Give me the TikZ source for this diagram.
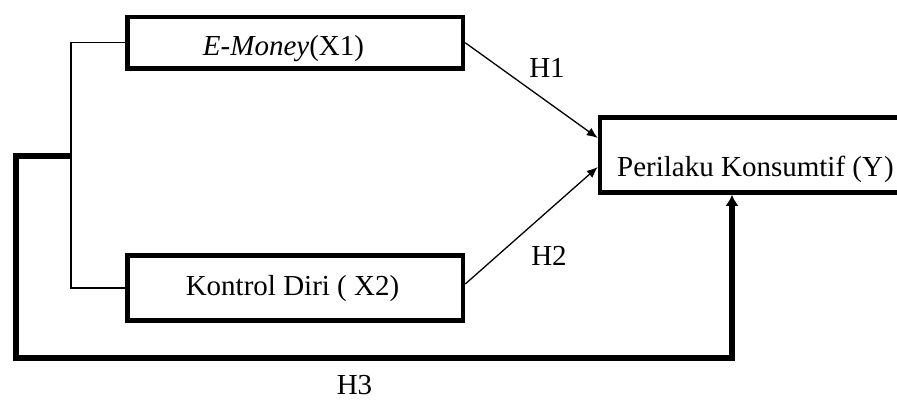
\documentclass[tikz,border=0pt]{standalone}
\usepackage{fontspec}
\setmainfont{Liberation Serif}
\usetikzlibrary{arrows.meta}
\begin{document}
\begin{tikzpicture}[x=1pt,y=-1pt,
  varbox/.style={draw,line width=4.5pt,rectangle,inner sep=0pt},
  lbl/.style={anchor=base,inner sep=0pt,font=\fontsize{29}{33}\selectfont},
  thinline/.style={line width=1.3pt},
  thickline/.style={line width=5.5pt},
  thinarrow/.style={thinline,-{Latex[length=11pt,width=9pt]}},
  thickarrow/.style={thickline,-{Latex[length=11pt,width=13pt]}}]
\useasboundingbox (0,0) rectangle (897,399);
\clip (0,0) rectangle (897,399);

% variable boxes
\node[varbox,minimum width=335.5pt,minimum height=51.5pt] (X1) at (295.25,42.75) {};
\node[varbox,minimum width=335.5pt,minimum height=65pt] (X2) at (295.25,288) {};
\node[varbox,minimum width=320pt,minimum height=75pt] (Y) at (760,155) {};

% box texts
\node[lbl] (tX1) at (283.5,55) {\textit{E-Money}(X1)};
\node[lbl] (tX2) at (292.5,295) {Kontrol Diri ( X2)};
\node[lbl,anchor=base west] (tY) at (617,176) {Perilaku Konsumtif (Y\kern1pt)};

% hypothesis labels
\node[lbl] (h1) at (547,77) {H1};
\node[lbl] (h2) at (549,265) {H2};
\node[lbl] (h3) at (354.5,394) {H3};

% bracket joining the two independent variables
\coordinate (jt) at (71,42.75);
\coordinate (jb) at (71,288);
\draw[thinline] (X1.west) -- (jt) -- (jb) -- (X2.west);

% simultaneous path H3
\coordinate (j0) at (71,156);
\coordinate (c1) at (16,156);
\coordinate (c2) at (16,358);
\coordinate (c3) at (732,358);
\draw[thickarrow,line join=miter] (j0) -- (c1) -- (c2) -- (c3) -- (c3 |- Y.south);

% partial paths H1 and H2
\draw[thinarrow] (X1.east) -- ([yshift=17pt]Y.west);
\draw[thinarrow] ([yshift=4pt]X2.east) -- ([yshift=-12pt]Y.west);
\end{tikzpicture}
\end{document}
